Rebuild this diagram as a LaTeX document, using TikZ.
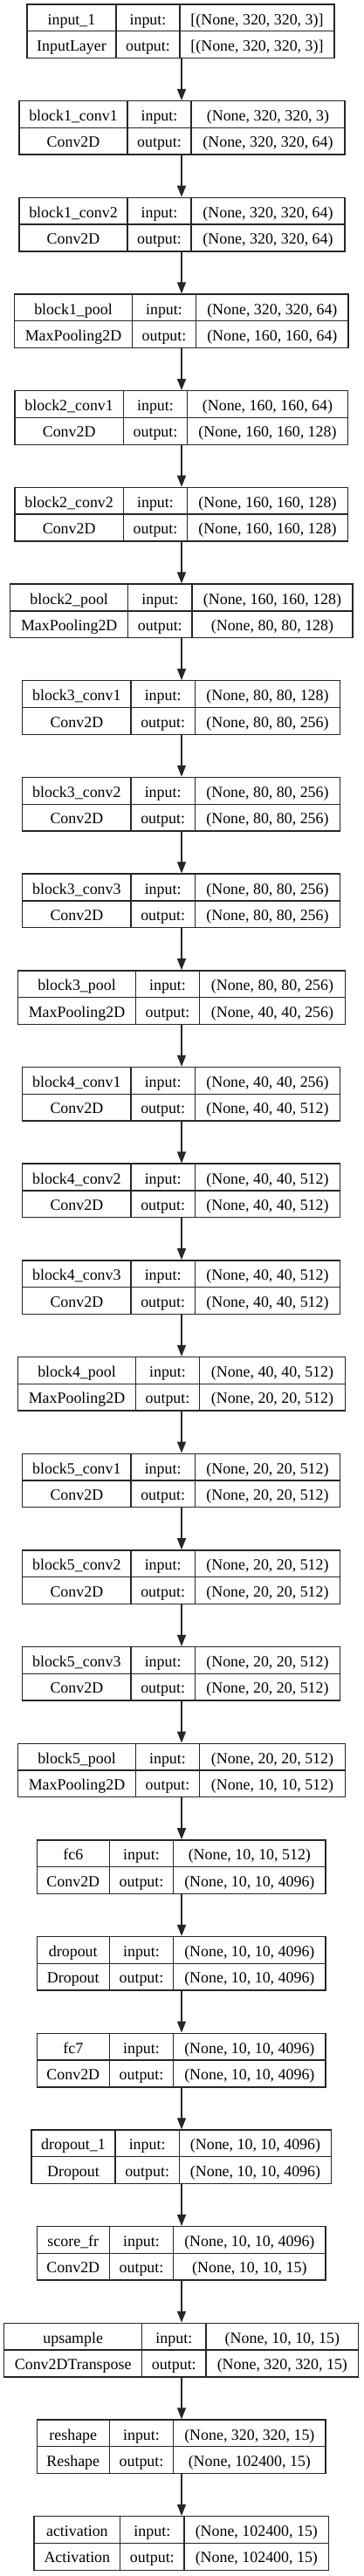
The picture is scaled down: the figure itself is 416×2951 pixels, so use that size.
\documentclass[tikz,border=0pt]{standalone}
\usepackage{fontspec}
\setmainfont{Liberation Serif}
\usetikzlibrary{arrows.meta}
\definecolor{edgecol}{HTML}{262626}
\tikzset{
  box/.style={draw=edgecol, line width=1.4pt, inner sep=0pt, rectangle},
  sepline/.style={draw=edgecol, line width=1.4pt},
  txt/.style={inner sep=0pt, font=\fontsize{17.9}{20}\selectfont, text=black, anchor=base},
  flow/.style={draw=edgecol, line width=1.4pt, -{Triangle[width=10pt,length=13pt]}},
}
% #1 index, #2 L, #3 d1, #4 d2, #5 R, #6 name, #7 type, #8 input, #9 output
\newcommand\layer[9]{%
  \pgfmathsetmacro\myYt{5+110.68*#1}%
  \pgfmathsetmacro\myYm{\myYt+30.75}%
  \pgfmathsetmacro\myYb{\myYt+61.5}%
  \pgfmathsetmacro\myW{#5-#2}%
  \pgfmathsetmacro\myXc{(#2+#5)/2}%
  \pgfmathsetmacro\myCa{(#2+#3)/2}%
  \pgfmathsetmacro\myCb{(#3+#4)/2}%
  \pgfmathsetmacro\myCc{(#4+#5)/2}%
  \node[box, minimum width=\myW pt, minimum height=61.5pt] (L#1) at (\myXc,\myYm) {};
  \draw[sepline] (#3,\myYt) -- (#3,\myYb);
  \draw[sepline] (#4,\myYt) -- (#4,\myYb);
  \draw[sepline] (#2,\myYm) -- (#5,\myYm);
  \node[txt] (L#1n) at (\myCa,\myYt+23) {#6};
  \node[txt] (L#1t) at (\myCa,\myYm+22.5) {#7};
  \node[txt] (L#1il) at (\myCb,\myYt+23) {input:};
  \node[txt] (L#1ol) at (\myCb,\myYm+22.5) {output:};
  \node[txt] (L#1i) at (\myCc,\myYt+23) {#8};
  \node[txt] (L#1o) at (\myCc,\myYm+22.5) {#9};
}
\begin{document}
\begin{tikzpicture}[x=1pt,y=-1pt]
\useasboundingbox (0,0) rectangle (416,2951);
\fill[white] (0,0) rectangle (416,2951);
\coordinate (ax) at (208,0);
\layer{0}{31}{133}{206}{383}{input\_1}{InputLayer}{[(None, 320, 320, 3)]}{[(None, 320, 320, 3)]}
\layer{1}{22}{146}{219}{395}{block1\_conv1}{Conv2D}{(None, 320, 320, 3)}{(None, 320, 320, 64)}
\layer{2}{22}{146}{219}{395}{block1\_conv2}{Conv2D}{(None, 320, 320, 64)}{(None, 320, 320, 64)}
\layer{3}{16.7}{151.3}{224.7}{399}{block1\_pool}{MaxPooling2D}{(None, 320, 320, 64)}{(None, 160, 160, 64)}
\layer{4}{17}{141.3}{214.7}{398.3}{block2\_conv1}{Conv2D}{(None, 160, 160, 64)}{(None, 160, 160, 128)}
\layer{5}{17}{141.3}{214.7}{398.3}{block2\_conv2}{Conv2D}{(None, 160, 160, 128)}{(None, 160, 160, 128)}
\layer{6}{11.7}{146.7}{220}{404}{block2\_pool}{MaxPooling2D}{(None, 160, 160, 128)}{(None, 80, 80, 128)}
\layer{7}{25.7}{150}{223.3}{389.7}{block3\_conv1}{Conv2D}{(None, 80, 80, 128)}{(None, 80, 80, 256)}
\layer{8}{25.7}{150}{223.3}{389.7}{block3\_conv2}{Conv2D}{(None, 80, 80, 256)}{(None, 80, 80, 256)}
\layer{9}{25.7}{150}{223.3}{389.7}{block3\_conv3}{Conv2D}{(None, 80, 80, 256)}{(None, 80, 80, 256)}
\layer{10}{20.7}{155.3}{228.7}{395.3}{block3\_pool}{MaxPooling2D}{(None, 80, 80, 256)}{(None, 40, 40, 256)}
\layer{11}{25.7}{150}{223.3}{389.7}{block4\_conv1}{Conv2D}{(None, 40, 40, 256)}{(None, 40, 40, 512)}
\layer{12}{25.7}{150}{223.3}{389.7}{block4\_conv2}{Conv2D}{(None, 40, 40, 512)}{(None, 40, 40, 512)}
\layer{13}{25.7}{150}{223.3}{389.7}{block4\_conv3}{Conv2D}{(None, 40, 40, 512)}{(None, 40, 40, 512)}
\layer{14}{20.7}{155.3}{228.7}{395.3}{block4\_pool}{MaxPooling2D}{(None, 40, 40, 512)}{(None, 20, 20, 512)}
\layer{15}{25.7}{150}{223.3}{389.7}{block5\_conv1}{Conv2D}{(None, 20, 20, 512)}{(None, 20, 20, 512)}
\layer{16}{25.7}{150}{223.3}{389.7}{block5\_conv2}{Conv2D}{(None, 20, 20, 512)}{(None, 20, 20, 512)}
\layer{17}{25.7}{150}{223.3}{389.7}{block5\_conv3}{Conv2D}{(None, 20, 20, 512)}{(None, 20, 20, 512)}
\layer{18}{20.7}{155.3}{228.7}{395.3}{block5\_pool}{MaxPooling2D}{(None, 20, 20, 512)}{(None, 10, 10, 512)}
\layer{19}{42.3}{125.3}{198.7}{373}{fc6}{Conv2D}{(None, 10, 10, 512)}{(None, 10, 10, 4096)}
\layer{20}{42.3}{125.3}{198.7}{373}{dropout}{Dropout}{(None, 10, 10, 4096)}{(None, 10, 10, 4096)}
\layer{21}{42.3}{125.3}{198.7}{373}{fc7}{Conv2D}{(None, 10, 10, 4096)}{(None, 10, 10, 4096)}
\layer{22}{36}{132}{205.3}{379.7}{dropout\_1}{Dropout}{(None, 10, 10, 4096)}{(None, 10, 10, 4096)}
\layer{23}{42.3}{125.3}{198.7}{373}{score\_fr}{Conv2D}{(None, 10, 10, 4096)}{(None, 10, 10, 15)}
\layer{24}{4.7}{162.7}{236}{410.7}{upsample}{Conv2DTranspose}{(None, 10, 10, 15)}{(None, 320, 320, 15)}
\layer{25}{42.3}{125.3}{198.7}{373}{reshape}{Reshape}{(None, 320, 320, 15)}{(None, 102400, 15)}
\layer{26}{39}{137.7}{211}{376.7}{activation}{Activation}{(None, 102400, 15)}{(None, 102400, 15)}
\foreach \i [evaluate=\i as \j using int(\i+1)] in {0,...,25} {
  \draw[flow] (L\i.south -| ax) -- (L\j.north -| ax);
}
\end{tikzpicture}
\end{document}
